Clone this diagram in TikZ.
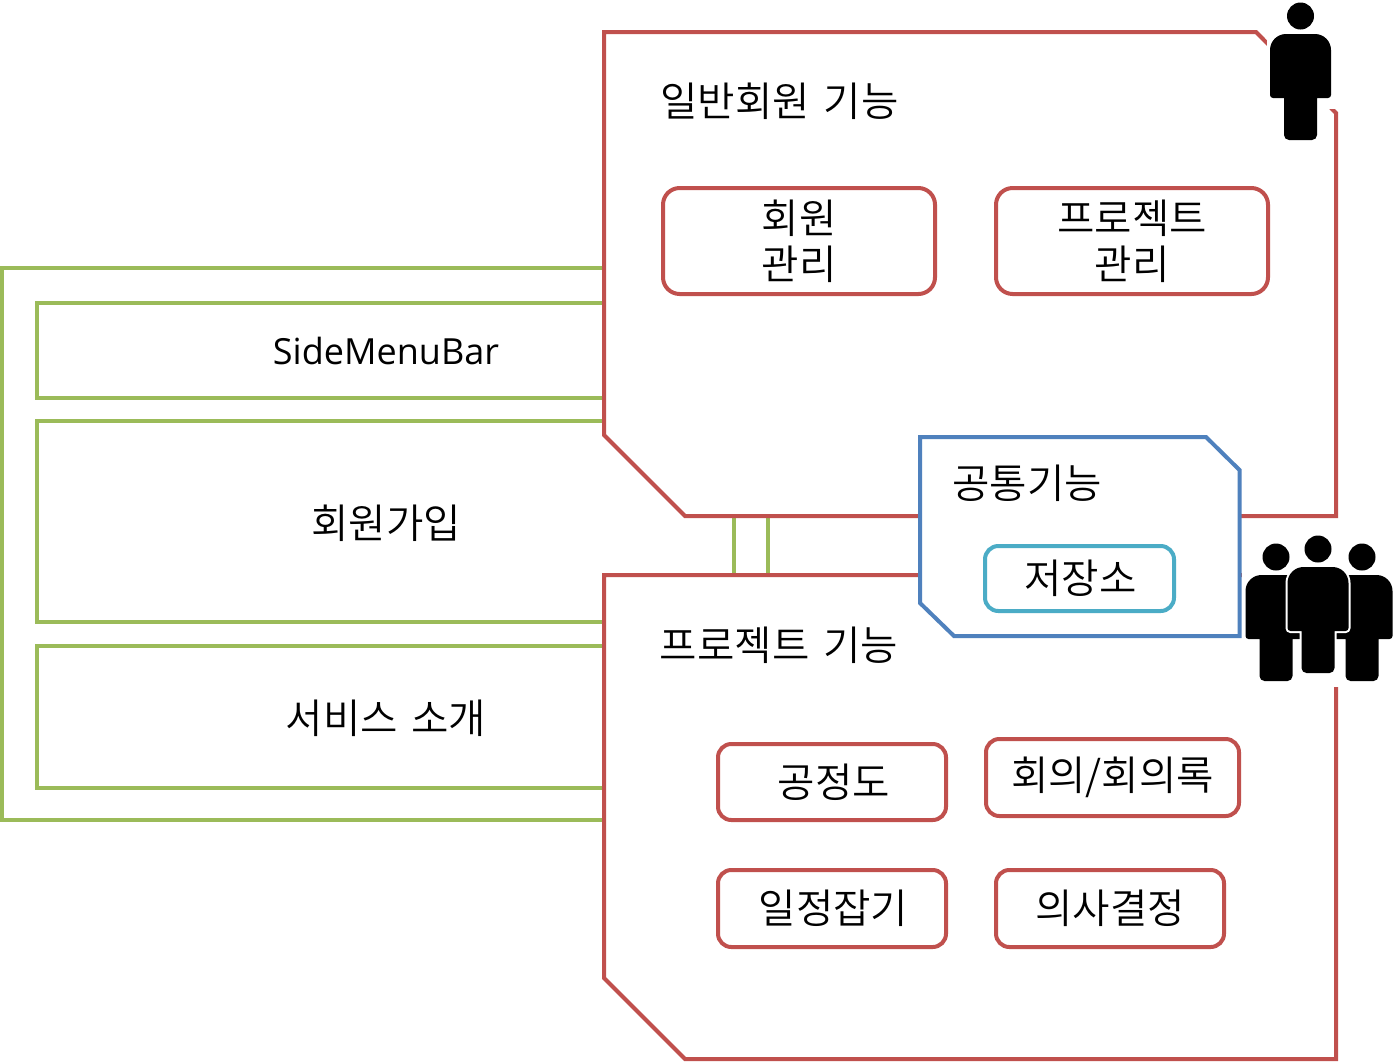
\documentclass[tikz,border=0pt]{standalone}
\usepackage{fontspec}
\setmainfont{Noto Sans CJK KR}[UprightFont=* DemiLight, WordSpace=1.5]
\newfontfamily\latinfont{Open Sans}
\usetikzlibrary{positioning}

\definecolor{redline}{HTML}{C0504D}
\definecolor{greenline}{HTML}{9BBB59}
\definecolor{blueline}{HTML}{4F81BD}
\definecolor{tealline}{HTML}{4BACC6}

\tikzset{
  greenbox/.style={draw=greenline, line width=3pt, inner sep=0pt},
  areabox/.style={draw=redline, line width=3pt, fill=white, line join=miter},
  funcbox/.style={draw=redline, line width=3pt, fill=white, rounded corners=10pt, inner sep=0pt, align=center},
  title/.style={inner sep=0pt},
  personbody/.style={fill=black, preaction={draw=white, line width=3pt}},
  person/.pic={
    \fill[black] (0,-18) circle (13.5);
    \path[personbody, sharp corners] (-16.5,64) [rounded corners=3.75pt] -- (-16.5,106) -- (16.5,106) [sharp corners] -- (16.5,64)
      [rounded corners=2.25pt] -- (30.5,64) [rounded corners=12pt] -- (30.5,0) -- (-30.5,0) [rounded corners=2.25pt] -- (-30.5,64) [sharp corners] -- cycle;
  }
}

\begin{document}
\begin{tikzpicture}[x=0.75pt, y=-0.75pt, font=\fontsize{30.5pt}{34.5pt}\selectfont]
    \useasboundingbox (0,0) rectangle (1398,1061);

    % left side, runs behind the two areas
    \node[greenbox, minimum width=574.5pt, minimum height=414pt] (outer) at (385,544) {};
    \node[greenbox, minimum width=522.75pt, minimum height=71.25pt] (sidebar) at (385.5,350.5) {};
    \node[greenbox, minimum width=522.75pt, minimum height=150.75pt] (join) at (385.5,521.5) {};
    \node[greenbox, minimum width=522.75pt, minimum height=106.5pt] (intro) at (385.5,717) {};
    \node at (386,351) (sidebartext) {\latinfont\fontsize{27pt}{34.5pt}\selectfont SideMenuBar};
    \node at (386,523) (jointext) {회원가입};
    \node at (386,718) (introtext) {서비스 소개};

    % the two areas
    \draw[areabox] (604,32) -- (1256,32) -- (1336,113) -- (1336,516) -- (685,516) -- (604,435) -- cycle;
    \draw[areabox] (604,575) -- (1256,575) -- (1336,656) -- (1336,1059) -- (685,1059) -- (604,978) -- cycle;

    \node[title] (membertitle) at (779.5,101.5) {일반회원 기능};
    \node[title] (projecttitle) at (779,645.5) {프로젝트 기능};

    \node[funcbox, rounded corners=12.5pt, minimum width=204pt, minimum height=79.5pt] (member) at (799,241) {회원\\관리};
    \node[funcbox, rounded corners=12.5pt, minimum width=204pt, minimum height=79.5pt] (project) at (1132,241) {프로젝트\\관리};

    \node[funcbox, minimum width=171pt, minimum height=57pt] (chart) at (832,782) {};
    \node at (834,782) (charttext) {공정도};
    \node[funcbox, minimum width=189.75pt, minimum height=57.75pt] (meeting) at (1112.5,777.5) {회의/회의록};
    \node[funcbox, minimum width=171pt, minimum height=57.75pt] (schedule) at (832,908.5) {};
    \node at (833.5,908.5) (scheduletext) {일정잡기};
    \node[funcbox, minimum width=171pt, minimum height=57.75pt] (decision) at (1110,908.5) {의사결정};

    % icons sit on white
    \fill[white] (1267,0) rectangle (1343,109);
    \fill[white] (1242,532) rectangle (1398,687);

    % common functions
    \draw[areabox, draw=blueline] (920,437) -- (1206,437) -- (1239.5,470) -- (1239.5,636) -- (954,636) -- (920,603) -- cycle;
    \node[title] (commontitle) at (1027,483) {공통기능};
    \node[funcbox, draw=tealline, minimum width=141.75pt, minimum height=48.75pt] (storage) at (1079.5,578.5) {};
    \node at (1080.5,578.5) (storagetext) {저장소};

    \pic at (1300.5,34) {person};
    \pic at (1276,575) {person};
    \pic at (1362,575) {person};
    \pic at (1318,567) {person};
\end{tikzpicture}
\end{document}
